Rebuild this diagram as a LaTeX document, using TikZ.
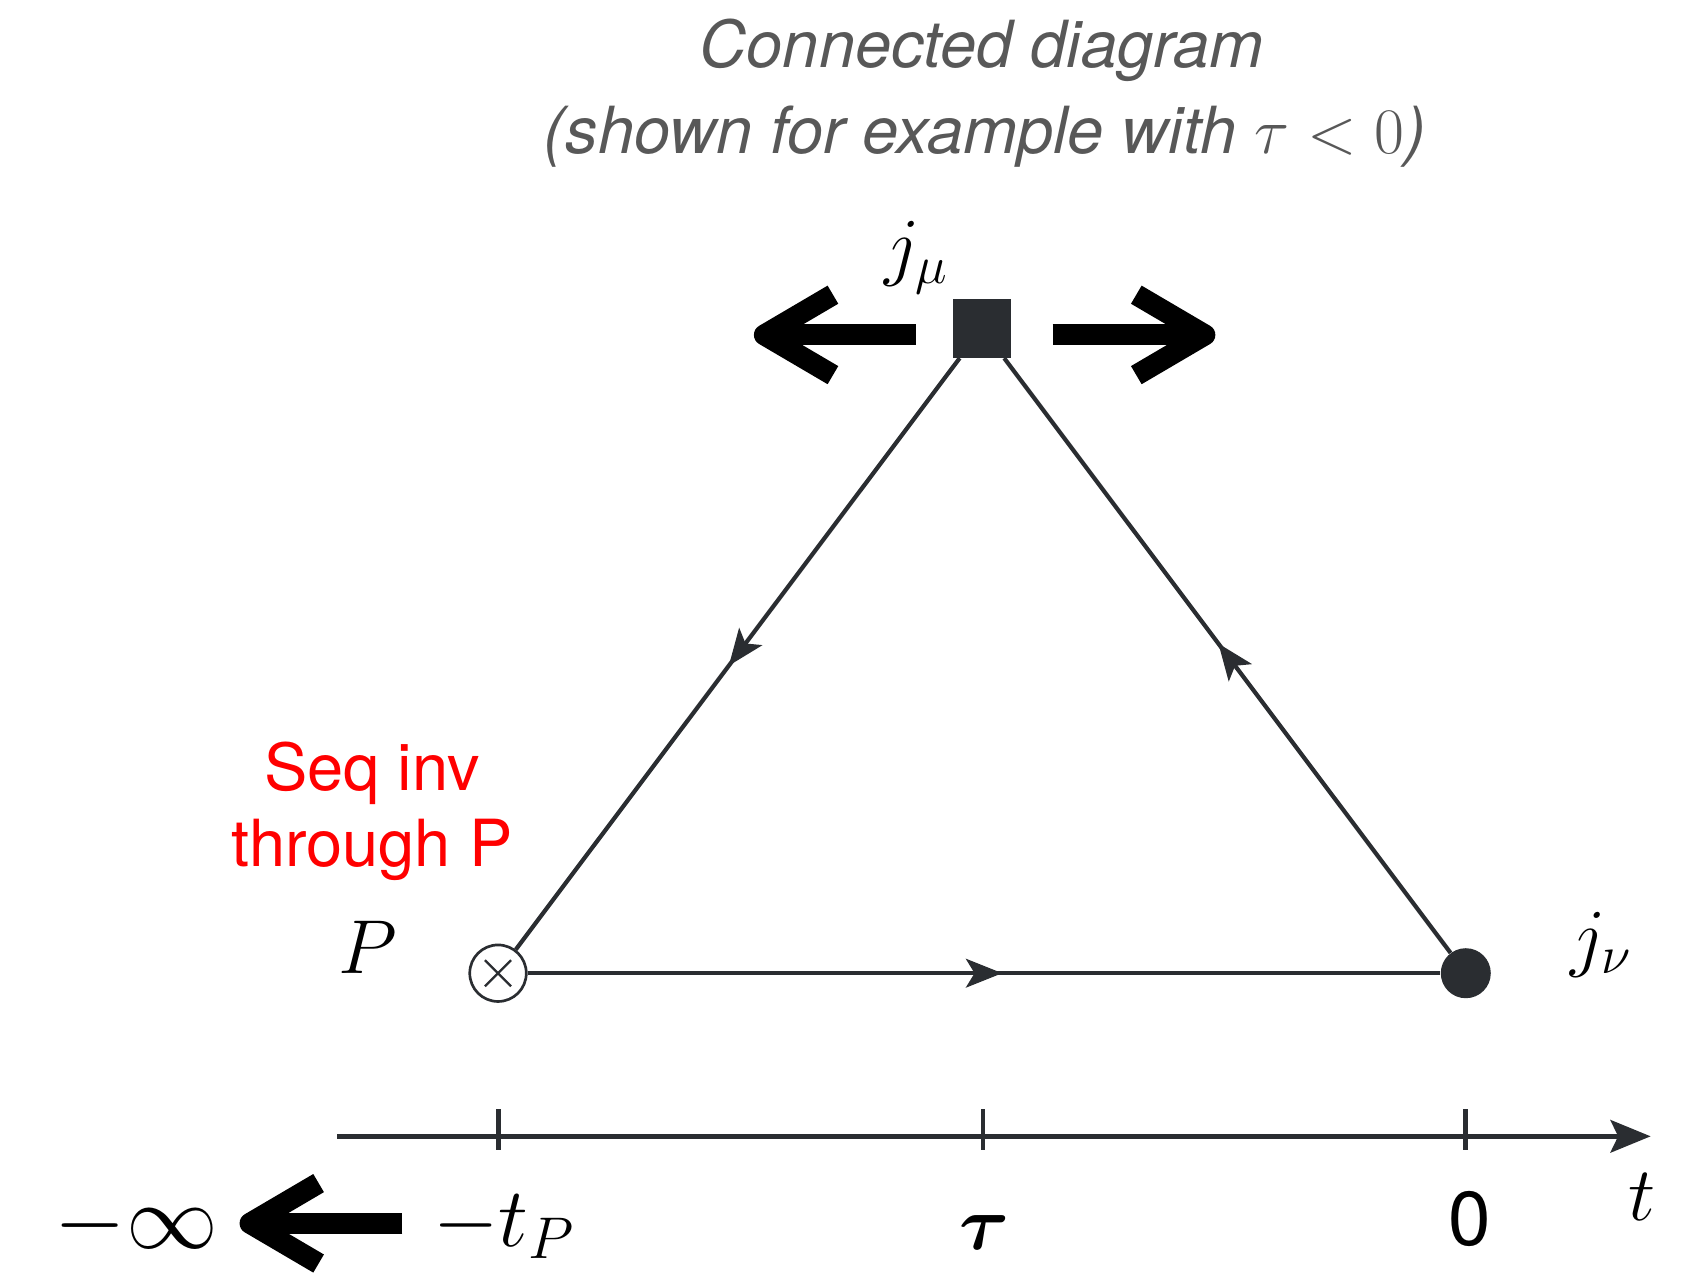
\RequirePackage{fix-cm}
\documentclass[tikz,border=0pt]{standalone}
\usepackage{amsmath}
\usepackage{fontspec}
\newfontfamily\hv{TeX Gyre Heros}
\usetikzlibrary{arrows.meta,decorations.markings}
\definecolor{ln}{RGB}{42,45,49}
\definecolor{ttl}{RGB}{88,88,88}
\tikzset{
  fline/.style={draw=ln, line width=2.2pt},
  midarr/.style={postaction={decorate}, decoration={markings,
      mark=at position 0.52 with {\arrow{Stealth[length=19pt,width=15pt,inset=4.5pt]}}}},
  shaft/.style={draw=black, line width=11pt, line cap=butt},
  chev/.style={draw=black, line width=11pt, line join=round, line cap=butt},
  mlab/.style={inner sep=0pt, font=\fontsize{40}{48}\selectfont},
  inflab/.style={inner sep=0pt, font=\fontsize{48}{54}\selectfont},
  tplab/.style={inner sep=0pt, font=\fontsize{44}{50}\selectfont},
  redlab/.style={inner sep=0pt, anchor=base, text=red, font=\hv\fontsize{34}{40}\selectfont},
  ttlab/.style={inner sep=0pt, anchor=base, text=ttl, font=\hv\itshape\fontsize{34}{40}\selectfont},
  tick/.style={draw=ln, line width=2.6pt},
}
\begin{document}
\begin{tikzpicture}[x=0.02cm, y=-0.02cm]
\useasboundingbox (0,0) rectangle (1568,1173);

% titles
\node[ttlab] (title1) at (903,62) {Connected diagram};
\node[ttlab] (title2) at (906,141) {(shown for example with $\tau<0$)};

% vertices
\node[rectangle, fill=ln, minimum size=1.08cm, inner sep=0pt] (jmu) at (903,302) {};
\node[circle, draw=ln, fill=white, line width=1.4pt, minimum size=1.04cm, inner sep=0pt] (P) at (458,895) {};
\draw[ln, line width=1.2pt] (P.center) ++(-12,-12) -- ++(24,24);
\draw[ln, line width=1.2pt] (P.center) ++(12,-12) -- ++(-24,24);
\node[circle, fill=ln, minimum size=0.92cm, inner sep=0pt] (jnu) at (1348,895) {};

% propagators
\draw[fline, midarr] (jmu) -- (P);
\draw[fline, midarr] (P) -- (jnu);
\draw[fline, midarr] (jnu) -- (jmu);

% vertex labels
\node[mlab, anchor=base] (jmulab) at (843,250) {$j_\mu$};
\node[mlab, anchor=base] (Plab) at (338,895) {$P$};
\node[mlab, anchor=base] (jnulab) at (1472,885) {$j_\nu$};

% red note
\node[redlab] (seq1) at (342,727) {Seq inv};
\node[redlab] (seq2) at (342,797) {through P};

% big arrows around jmu
\coordinate (la0) at (842,308);
\coordinate (la1) at (706,308);
\coordinate (lt) at (703,308);
\coordinate (lu) at (766,271);
\coordinate (ld) at (766,345);
\draw[shaft] (la0) -- (la1);
\draw[chev] (lu) -- (lt) -- (ld);
\coordinate (ra0) at (968,308);
\coordinate (ra1) at (1105,308);
\coordinate (rt) at (1108,308);
\coordinate (ru) at (1045,271);
\coordinate (rd) at (1045,345);
\draw[shaft] (ra0) -- (ra1);
\draw[chev] (ru) -- (rt) -- (rd);

% time axis
\coordinate (ax0) at (310,1045);
\coordinate (ax1) at (1518,1045);
\draw[tick, -{Stealth[length=21pt,width=17pt,inset=4pt]}] (ax0) -- (ax1);
\coordinate (t1a) at (458,1020); \coordinate (t1b) at (458,1058);
\coordinate (t2a) at (904,1020); \coordinate (t2b) at (904,1058);
\coordinate (t3a) at (1348,1020); \coordinate (t3b) at (1348,1058);
\draw[tick] (t1a) -- (t1b);
\draw[tick] (t2a) -- (t2b);
\draw[tick] (t3a) -- (t3b);

% axis labels
\node[inflab, anchor=base west] (minf) at (50,1148) {$-\infty$};
\coordinate (ba0) at (370,1125);
\coordinate (ba1) at (233,1125);
\coordinate (bt) at (230,1125);
\coordinate (bu) at (293,1088);
\coordinate (bd) at (293,1162);
\draw[shaft] (ba0) -- (ba1);
\draw[chev] (bu) -- (bt) -- (bd);
\node[tplab, anchor=base west] (mtp) at (398,1146) {$-t_P$};
\node[mlab, anchor=base] (taulab) at (905,1149) {$\boldsymbol{\tau}$};
\node[inner sep=0pt, anchor=base, font=\hv\fontsize{40}{48}\selectfont] (zero) at (1352,1145) {0};
\node[mlab, anchor=base] (tlab) at (1510,1122) {$t$};
\end{tikzpicture}
\end{document}
